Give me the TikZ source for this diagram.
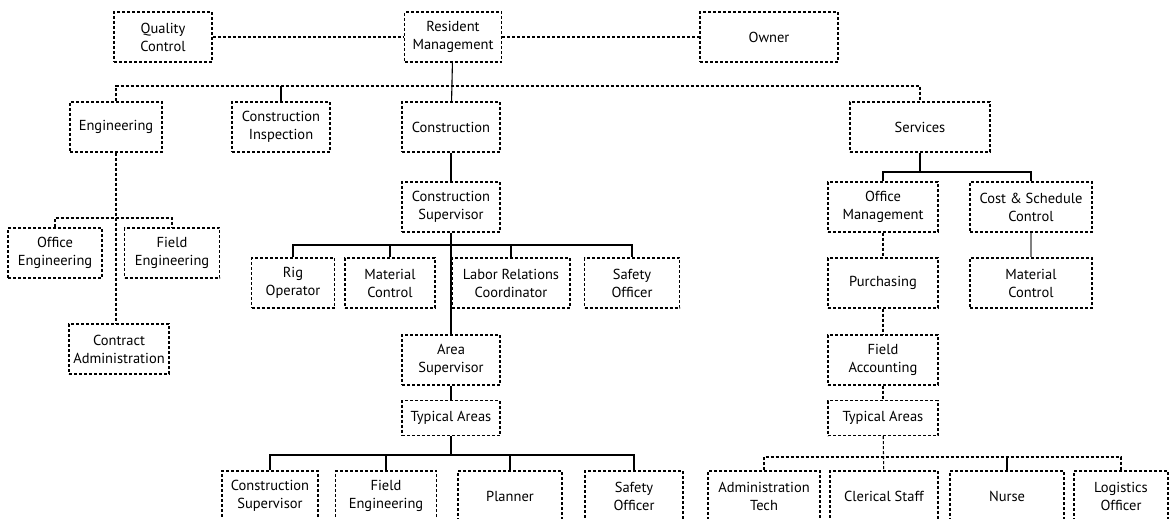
\documentclass[tikz,border=0pt]{standalone}
\usepackage{fontspec}
\setmainfont{PT Sans}
\tikzset{
  box/.style={draw,densely dashed,line width=1.1pt,align=center,inner sep=0pt,
    font=\fontsize{14.5}{18}\selectfont,minimum height=50pt},
  link/.style={line width=1.1pt},
  dlink/.style={line width=1.1pt,densely dashed}
}
\begin{document}
\begin{tikzpicture}[x=1pt,y=-1pt]
\useasboundingbox (0,0) rectangle (1171,519);
\node[box,minimum width=98pt] (qc) at (163,37) {Quality\\Control};
\node[box,minimum width=97pt] (rm) at (453,37) {Resident\\Management};
\node[box,minimum width=138pt] (own) at (769,37) {Owner};
\node[box,minimum width=92pt] (eng) at (116,127) {Engineering};
\node[box,minimum width=98pt] (ci) at (281,127) {Construction\\Inspection};
\node[box,minimum width=98pt] (con) at (451,127) {Construction};
\node[box,minimum width=140pt] (srv) at (920,127) {Services};
% engineering
\node[box,minimum width=94pt] (oe) at (55,253) {Office\\Engineering};
\node[box,minimum width=95pt] (fe) at (172,253) {Field\\Engineering};
\node[box,minimum width=100pt] (ca) at (119,349) {Contract\\Administration};
% construction
\node[box,minimum width=98pt] (cs) at (451,207) {Construction\\Supervisor};
\node[box,minimum width=83pt] (rig) at (293,283) {Rig\\Operator};
\node[box,minimum width=90pt] (mc) at (390,283) {Material\\Control};
\node[box,minimum width=118pt] (lrc) at (511,283) {Labor Relations\\Coordinator};
\node[box,minimum width=95pt] (so) at (632,283) {Safety\\Officer};
\node[box,minimum width=98pt] (as) at (451,360) {Area\\Supervisor};
\node[box,minimum width=98pt,minimum height=35pt] (ta) at (451,418) {Typical Areas};
\node[box,minimum width=96pt] (bcs) at (270,496) {Construction\\Supervisor};
\node[box,minimum width=101pt] (bfe) at (386,496) {Field\\Engineering};
\node[box,minimum width=104pt] (pl) at (510,496) {Planner};
\node[box,minimum width=98pt] (bso) at (634,496) {Safety\\Officer};
% services
\node[box,minimum width=110pt] (om) at (883,207) {Office\\Management};
\node[box,minimum width=122pt] (csc) at (1031,207) {Cost \& Schedule\\Control};
\node[box,minimum width=122pt] (smc) at (1031,283) {Material\\Control};
\node[box,minimum width=110pt] (pu) at (883,283) {Purchasing};
\node[box,minimum width=110pt] (fa) at (883,360) {Field\\Accounting};
\node[box,minimum width=110pt,minimum height=35pt] (sta) at (883,418) {Typical Areas};
\node[box,minimum width=112pt] (at) at (764,496) {Administration\\Tech};
\node[box,minimum width=108pt] (cl) at (884,496) {Clerical Staff};
\node[box,minimum width=114pt] (nu) at (1007,496) {Nurse};
\node[box,minimum width=94pt] (lo) at (1121,496) {Logistics\\Officer};
% top
\draw[dlink] (qc) -- (rm);
\draw[dlink] (rm) -- (own);
\draw[link] (rm) -- (con);
\draw[dlink] (eng.north) |- (453,86) -| (srv.north);
\draw[link] (ci.north) -- (281,86);
\draw[dlink] (eng.south) -- (ca.north-|eng.south);
\draw[dlink] (oe.north) |- (116,218) -| (fe.north);
\draw[link] (con) -- (cs);
\draw[link] (cs) -- (as);
\draw[link] (rig.north) |- (451,245) -| (so.north);
\draw[link] (mc.north) -- (390,245);
\draw[link] (lrc.north) -- (511,245);
\draw[link] (as) -- (ta);
\draw[link] (ta) -- (451,455);
\draw[link] (bcs.north) |- (451,455) -| (bso.north);
\draw[link] (bfe.north) -- (386,455);
\draw[link] (pl.north) -- (510,455);
\draw[link] (srv) -- (920,172);
\draw[link] (om.north) |- (920,172) -| (csc.north);
\draw[link,gray] (csc) -- (smc);
\draw[dlink] (om) -- (pu);
\draw[dlink] (pu) -- (fa);
\draw[dlink] (fa) -- (sta);
\draw[dlink] (sta) -- (cl);
\draw[dlink] (at.north) |- (884,457) -| (lo.north);
\draw[link] (nu.north) -- (1007,457);
\end{tikzpicture}
\end{document}
